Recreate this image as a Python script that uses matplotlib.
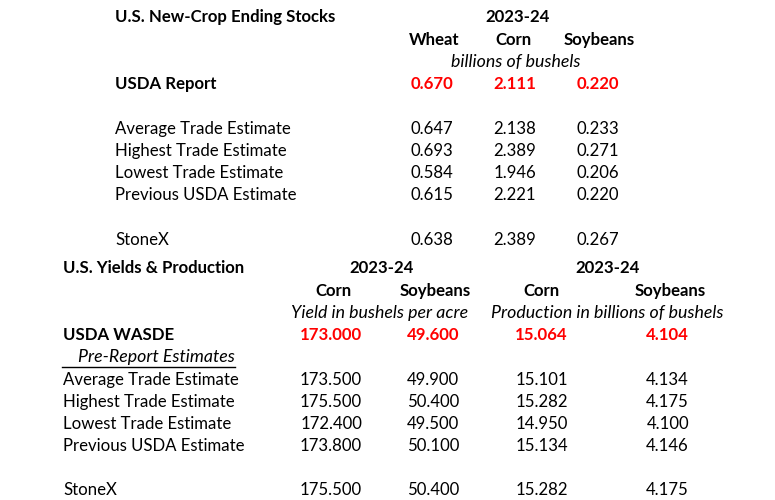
import matplotlib.pyplot as plt

plt.rcParams['font.family'] = ['Lato', 'DejaVu Sans']

# ---- data: ending stocks (billions of bushels)
stocks_title = 'U.S. New-Crop Ending Stocks'
stocks_year = '2023-24'
stocks_crops = ['Wheat', 'Corn', 'Soybeans']
stocks_unit = 'billions of bushels'
stocks_report = [0.670, 2.111, 0.220]
stocks_rows = ['Average Trade Estimate', 'Highest Trade Estimate',
               'Lowest Trade Estimate', 'Previous USDA Estimate']
stocks_wheat = [0.647, 0.693, 0.584, 0.615]
stocks_corn = [2.138, 2.389, 1.946, 2.221]
stocks_soy = [0.233, 0.271, 0.206, 0.220]
stocks_stonex = [0.638, 2.389, 0.267]

# ---- data: yields & production
yp_title = 'U.S. Yields & Production'
yp_crops = ['Corn', 'Soybeans', 'Corn', 'Soybeans']
yp_units = ['Yield in bushels per acre', 'Production in billions of bushels']
yp_wasde = [173.000, 49.600, 15.064, 4.104]
yp_rows = ['Average Trade Estimate', 'Highest Trade Estimate',
           'Lowest Trade Estimate', 'Previous USDA Estimate']
yp_corn_yield = [173.500, 175.500, 172.400, 173.800]
yp_soy_yield = [49.900, 50.400, 49.500, 50.100]
yp_corn_prod = [15.101, 15.282, 14.950, 15.134]
yp_soy_prod = [4.134, 4.175, 4.100, 4.146]
yp_stonex = [175.500, 50.400, 15.282, 4.175]

W, H = 775, 500
fig = plt.figure(figsize=(W/100, H/100), dpi=100)
fs = 12.1
fs_it = 12.8
red = '#ff0000'

def put(x, y, s, **kw):
    kw.setdefault('fontsize', fs_it if kw.get('style') == 'italic' else fs)
    kw.setdefault('va', 'center')
    fig.text(x/W, 1 - y/H, s, **kw)

# top block
put(115, 17, stocks_title, weight='bold')
put(518, 17, stocks_year, weight='bold', ha='center')
for x, c in zip([434, 514, 599], stocks_crops):
    put(x, 40, c, weight='bold', ha='center')
put(516, 62, stocks_unit, style='italic', ha='center')
put(115, 84, 'USDA Report', weight='bold')
xr = [453, 536, 619]
for x, v in zip(xr, stocks_report):
    put(x, 84, f'{v:.3f}', color=red, weight='bold', ha='right')
rows_y = [129, 151, 173, 195]
for y, lab, a, b, c in zip(rows_y, stocks_rows, stocks_wheat, stocks_corn, stocks_soy):
    put(115, y, lab)
    for x, v in zip(xr, (a, b, c)):
        put(x, y, f'{v:.3f}', ha='right')
put(115, 240, 'StoneX')
for x, v in zip(xr, stocks_stonex):
    put(x, 240, f'{v:.3f}', ha='right')

# bottom block
put(63, 268, yp_title, weight='bold')
put(382, 268, stocks_year, weight='bold', ha='center')
put(608, 268, stocks_year, weight='bold', ha='center')
for x, c in zip([333, 435, 541, 670], yp_crops):
    put(x, 291, c, weight='bold', ha='center')
for x, u in zip([380, 607], yp_units):
    put(x, 313, u, style='italic', ha='center')
put(63, 335, 'USDA WASDE', weight='bold')
xr2 = [362, 459, 568, 689]
for x, v in zip(xr2, yp_wasde):
    put(x, 335, f'{v:.3f}', color=red, weight='bold', ha='right')
put(78, 357, 'Pre-Report Estimates', style='italic')
fig.add_artist(plt.Line2D([62/W, 235/W], [1 - 366.5/H, 1 - 366.5/H], color='black', lw=1))
rows_y2 = [380, 402, 424, 446]
for i, (y, lab) in enumerate(zip(rows_y2, yp_rows)):
    put(63, y, lab)
    vals = (yp_corn_yield[i], yp_soy_yield[i], yp_corn_prod[i], yp_soy_prod[i])
    for x, v in zip(xr2, vals):
        put(x, y, f'{v:.3f}', ha='right')
put(63, 490, 'StoneX')
for x, v in zip(xr2, yp_stonex):
    put(x, 490, f'{v:.3f}', ha='right')

fig.savefig('out.png', dpi=100)
